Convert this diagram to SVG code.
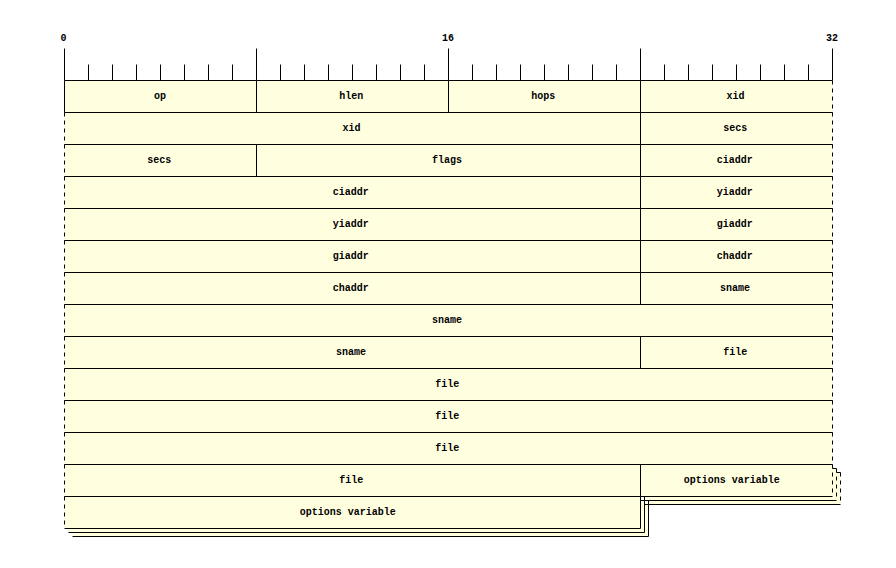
<svg xmlns="http://www.w3.org/2000/svg" width="896" height="568" viewBox="0 0 896 568">
<style>
  .bg { fill: #ffffe0; stroke: none; }
  .s { stroke: #000; stroke-width: 1; fill: none; }
  .d { stroke: #000; stroke-width: 1; fill: none; stroke-dasharray: 4 4; }
  .t { font-family: "Liberation Mono", "DejaVu Sans Mono", monospace; font-weight: bold; font-size: 10px; fill: #000; text-anchor: middle; }
</style>
<rect x="0" y="0" width="896" height="568" fill="#ffffff"/>
<g transform="translate(0.5,0.5)">
  <g id="ruler">
    <text class="t" x="63" y="40">0</text>
    <text class="t" x="447.5" y="40">16</text>
    <text class="t" x="831.5" y="40">32</text>
    <path class="s" d="M64 48V80M256 48V80M448 48V80M640 48V80M832 48V80"/>
    <path class="s" d="M88 64V80M112 64V80M136 64V80M160 64V80M184 64V80M208 64V80M232 64V80M280 64V80M304 64V80M328 64V80M352 64V80M376 64V80M400 64V80M424 64V80M472 64V80M496 64V80M520 64V80M544 64V80M568 64V80M592 64V80M616 64V80M664 64V80M688 64V80M712 64V80M736 64V80M760 64V80M784 64V80M808 64V80"/>
  </g>

  <!-- row 0 -->
  <g id="op"><rect class="bg" x="64" y="80" width="192" height="32"/><path class="s" d="M64 80H256V112H64Z"/><text class="t" x="159.4" y="98">op</text></g>
  <g id="hlen"><rect class="bg" x="256" y="80" width="192" height="32"/><path class="s" d="M256 80H448V112H256Z"/><text class="t" x="350.8" y="98">hlen</text></g>
  <g id="hops"><rect class="bg" x="448" y="80" width="192" height="32"/><path class="s" d="M448 80H640V112H448Z"/><text class="t" x="542.8" y="98">hops</text></g>
  <g id="xid-1"><rect class="bg" x="640" y="80" width="192" height="32"/><path class="s" d="M832 112H640V80H832"/><path class="d" d="M832 80V112"/><text class="t" x="735.1" y="98">xid</text></g>

  <!-- row 1 -->
  <g id="xid-2"><rect class="bg" x="64" y="112" width="576" height="32"/><path class="s" d="M64 112H640V144H64"/><path class="d" d="M64 112V144"/><text class="t" x="351.1" y="130">xid</text></g>
  <g id="secs-1"><rect class="bg" x="640" y="112" width="192" height="32"/><path class="s" d="M832 144H640V112H832"/><path class="d" d="M832 112V144"/><text class="t" x="734.8" y="130">secs</text></g>

  <!-- row 2 -->
  <g id="secs-2"><rect class="bg" x="64" y="144" width="192" height="32"/><path class="s" d="M64 144H256V176H64"/><path class="d" d="M64 144V176"/><text class="t" x="158.8" y="162">secs</text></g>
  <g id="flags"><rect class="bg" x="256" y="144" width="384" height="32"/><path class="s" d="M256 144H640V176H256Z"/><text class="t" x="446.5" y="162">flags</text></g>
  <g id="ciaddr-1"><rect class="bg" x="640" y="144" width="192" height="32"/><path class="s" d="M832 176H640V144H832"/><path class="d" d="M832 144V176"/><text class="t" x="734.2" y="162">ciaddr</text></g>

  <!-- row 3 -->
  <g id="ciaddr-2"><rect class="bg" x="64" y="176" width="576" height="32"/><path class="s" d="M64 176H640V208H64"/><path class="d" d="M64 176V208"/><text class="t" x="350.2" y="194">ciaddr</text></g>
  <g id="yiaddr-1"><rect class="bg" x="640" y="176" width="192" height="32"/><path class="s" d="M832 208H640V176H832"/><path class="d" d="M832 176V208"/><text class="t" x="734.2" y="194">yiaddr</text></g>

  <!-- row 4 -->
  <g id="yiaddr-2"><rect class="bg" x="64" y="208" width="576" height="32"/><path class="s" d="M64 208H640V240H64"/><path class="d" d="M64 208V240"/><text class="t" x="350.2" y="226">yiaddr</text></g>
  <g id="giaddr-1"><rect class="bg" x="640" y="208" width="192" height="32"/><path class="s" d="M832 240H640V208H832"/><path class="d" d="M832 208V240"/><text class="t" x="734.2" y="226">giaddr</text></g>

  <!-- row 5 -->
  <g id="giaddr-2"><rect class="bg" x="64" y="240" width="576" height="32"/><path class="s" d="M64 240H640V272H64"/><path class="d" d="M64 240V272"/><text class="t" x="350.2" y="258">giaddr</text></g>
  <g id="chaddr-1"><rect class="bg" x="640" y="240" width="192" height="32"/><path class="s" d="M832 272H640V240H832"/><path class="d" d="M832 240V272"/><text class="t" x="734.2" y="258">chaddr</text></g>

  <!-- row 6 -->
  <g id="chaddr-2"><rect class="bg" x="64" y="272" width="576" height="32"/><path class="s" d="M64 272H640V304H64"/><path class="d" d="M64 272V304"/><text class="t" x="350.2" y="290">chaddr</text></g>
  <g id="sname-1"><rect class="bg" x="640" y="272" width="192" height="32"/><path class="s" d="M832 304H640V272H832"/><path class="d" d="M832 272V304"/><text class="t" x="734.5" y="290">sname</text></g>

  <!-- row 7 -->
  <g id="sname-2"><rect class="bg" x="64" y="304" width="768" height="32"/><path class="s" d="M64 304H832M64 336H832"/><path class="d" d="M64 304V336M832 304V336"/><text class="t" x="446.5" y="322">sname</text></g>

  <!-- row 8 -->
  <g id="sname-3"><rect class="bg" x="64" y="336" width="576" height="32"/><path class="s" d="M64 336H640V368H64"/><path class="d" d="M64 336V368"/><text class="t" x="350.5" y="354">sname</text></g>
  <g id="file-1"><rect class="bg" x="640" y="336" width="192" height="32"/><path class="s" d="M832 368H640V336H832"/><path class="d" d="M832 336V368"/><text class="t" x="734.8" y="354">file</text></g>

  <!-- rows 9-11 -->
  <g id="file-2"><rect class="bg" x="64" y="368" width="768" height="32"/><path class="s" d="M64 368H832M64 400H832"/><path class="d" d="M64 368V400M832 368V400"/><text class="t" x="446.8" y="386">file</text></g>
  <g id="file-3"><rect class="bg" x="64" y="400" width="768" height="32"/><path class="s" d="M64 400H832M64 432H832"/><path class="d" d="M64 400V432M832 400V432"/><text class="t" x="446.8" y="418">file</text></g>
  <g id="file-4"><rect class="bg" x="64" y="432" width="768" height="32"/><path class="s" d="M64 432H832M64 464H832"/><path class="d" d="M64 432V464M832 432V464"/><text class="t" x="446.8" y="450">file</text></g>

  <!-- row 12 -->
  <g id="file-5"><rect class="bg" x="64" y="464" width="576" height="32"/><path class="s" d="M64 464H640V496H64"/><path class="d" d="M64 464V496"/><text class="t" x="350.8" y="482">file</text></g>
  <g id="options-1">
    <rect class="bg" x="648" y="472" width="192" height="32"/><path class="s" d="M840 504H648V472H840"/><path class="d" d="M840 472V504"/>
    <rect class="bg" x="644" y="468" width="192" height="32"/><path class="s" d="M836 500H644V468H836"/><path class="d" d="M836 468V500"/>
    <rect class="bg" x="640" y="464" width="192" height="32"/><path class="s" d="M832 496H640V464H832"/><path class="d" d="M832 464V496"/>
    <text class="t" x="731.2" y="482">options variable</text>
  </g>

  <!-- row 13 -->
  <g id="options-2">
    <rect class="bg" x="72" y="504" width="576" height="32"/><path class="s" d="M72 504H648V536H72"/><path class="d" d="M72 504V536"/>
    <rect class="bg" x="68" y="500" width="576" height="32"/><path class="s" d="M68 500H644V532H68"/><path class="d" d="M68 500V532"/>
    <rect class="bg" x="64" y="496" width="576" height="32"/><path class="s" d="M64 496H640V528H64"/><path class="d" d="M64 496V528"/>
    <text class="t" x="347.2" y="514">options variable</text>
  </g>
  <g id="connectors"></g>
</g>
</svg>
